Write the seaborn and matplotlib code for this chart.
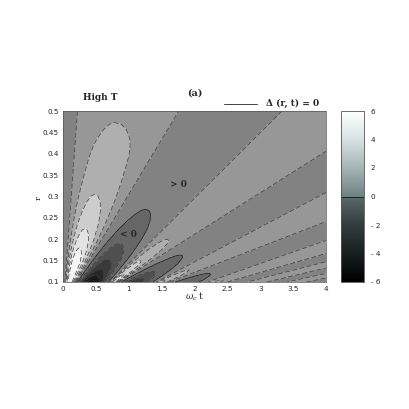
import matplotlib
matplotlib.use("Agg")
import matplotlib.pyplot as plt
import numpy as np
import seaborn as sns

# --------- Values --------- #
r_rows = [0.10, 0.11, 0.12, 0.135, 0.15, 0.165, 0.18, 0.20, 0.23, 0.25,
          0.27, 0.29, 0.31, 0.335, 0.36, 0.39, 0.42, 0.45, 0.473, 0.50]

# x where each level-1 ray sits at r = 0.1 and at r = 0.5
ray_bottom = [0.03, 0.20, 0.72, 0.85, 1.42, 1.62, 2.20, 2.50, 2.80, 3.10, 3.40, 3.70, 4.00]
ray_top = [0.22, 1.76, 3.33, 4.97, 6.35, 8.36, 9.60, 11.5, 12.9, 14.1, 15.4, 16.5, 17.6]

# value at the crest of each lobe between two rays, one per r row
crest_a = [5.8, 6.0, 6.0, 6.0, 5.8, 5.4, 5.0, 4.5, 3.9, 3.6, 3.35, 3.15, 2.95, 2.75, 2.6, 2.45, 2.3, 2.12, 2.0, 1.9]
crest_b = [-5.5, -4.5, -3.6, -2.7, -2.1, -1.6, -1.2, -0.8, -0.35, -0.15, 0.0, 0.1, 0.2, 0.28, 0.35, 0.4, 0.45, 0.5, 0.52, 0.55]
crest_c = [4.6, 4.3, 4.0, 3.5, 3.0, 2.6, 2.3, 2.0, 1.75, 1.63, 1.55, 1.5, 1.45, 1.42, 1.4, 1.37, 1.35, 1.33, 1.31, 1.3]
crest_d = [-2.8, -1.9, -1.2, -0.6, -0.2, 0.03, 0.2, 0.35, 0.45, 0.5, 0.55, 0.57, 0.6, 0.62, 0.65, 0.67, 0.7, 0.7, 0.7, 0.7]
crest_e = [3.2, 2.6, 2.2, 1.85, 1.6, 1.5, 1.45, 1.4, 1.35, 1.32, 1.3, 1.3, 1.3, 1.3, 1.3, 1.3, 1.3, 1.3, 1.3, 1.3]
crest_f = [-0.8, -0.3, 0.0, 0.25, 0.4, 0.5, 0.55, 0.6, 0.65, 0.68, 0.7, 0.7, 0.7, 0.7, 0.7, 0.7, 0.7, 0.7, 0.7, 0.7]
crest_g = [2.2, 1.8, 1.55, 1.4, 1.35, 1.3, 1.3, 1.3, 1.3, 1.3, 1.3, 1.3, 1.3, 1.3, 1.3, 1.3, 1.3, 1.3, 1.3, 1.3]
crest_h = [0.1, 0.35, 0.5, 0.6, 0.7, 0.7, 0.7, 0.7, 0.7, 0.7, 0.7, 0.7, 0.7, 0.7, 0.7, 0.7, 0.7, 0.7, 0.7, 0.7]
crest_i = [1.7, 1.45, 1.35, 1.3, 1.3, 1.3, 1.3, 1.3, 1.3, 1.3, 1.3, 1.3, 1.3, 1.3, 1.3, 1.3, 1.3, 1.3, 1.3, 1.3]
crest_j = [0.45, 0.6, 0.7, 0.7, 0.7, 0.7, 0.7, 0.7, 0.7, 0.7, 0.7, 0.7, 0.7, 0.7, 0.7, 0.7, 0.7, 0.7, 0.7, 0.7]
crest_k = [1.45, 1.35, 1.3, 1.3, 1.3, 1.3, 1.3, 1.3, 1.3, 1.3, 1.3, 1.3, 1.3, 1.3, 1.3, 1.3, 1.3, 1.3, 1.3, 1.3]
crest_l = [0.55, 0.65, 0.7, 0.7, 0.7, 0.7, 0.7, 0.7, 0.7, 0.7, 0.7, 0.7, 0.7, 0.7, 0.7, 0.7, 0.7, 0.7, 0.7, 0.7]
lobes = [crest_a, crest_b, crest_c, crest_d, crest_e, crest_f,
         crest_g, crest_h, crest_i, crest_j, crest_k, crest_l]
left_edge = 0.5
ray_level = 1.0

# profile across one lobe, crests lean to the left of the sector
lobe_pos = [0.0, 0.05, 0.1, 0.15, 0.2, 0.25, 0.3, 0.35, 0.4, 0.475, 0.55, 0.625, 0.7, 0.775, 0.85, 0.925]
lobe_shape = [0.0, 0.2, 0.38, 0.55, 0.71, 0.83, 0.92, 0.98, 1.0, 0.98, 0.92, 0.83, 0.71, 0.55, 0.38, 0.2]

levels = list(range(-6, 7))
band_colors = ["#0a0a0a", "#181818", "#282828", "#3a3a3a", "#4f4f4f", "#666666",
               "#828282", "#979797", "#afafaf", "#cdcdcd", "#e3e3e3", "#f5f5f5"]
x_ticks = [0, 0.5, 1, 1.5, 2, 2.5, 3, 3.5, 4]
x_tick_labels = ["0", "0.5", "1", "1.5", "2", "2.5", "3", "3.5", "4"]
y_ticks = [0.1, 0.15, 0.2, 0.25, 0.3, 0.35, 0.4, 0.45, 0.5]
y_tick_labels = ["0.1", "0.15", "0.2", "0.25", "0.3", "0.35", "0.4", "0.45", "0.5"]
bar_ticks = [-6, -4, -2, 0, 2, 4, 6]
bar_tick_labels = ["- 6", "- 4", "- 2", "0", "2", "4", "6"]
bar_colors = ["#000000", "#191e1e", "#323c3c", "#5a6969", "#6e8282", "#a5b4b4", "#d7e1e1", "#ffffff"]
bar_stops = [-6, -4, -2, -0.01, 0.01, 2, 4, 6]


# --------- Mesh following the rays --------- #
def build_field():
    r = np.array(r_rows)
    frac = (r - 0.1) / 0.4
    bottom = np.array(ray_bottom)
    top = np.array(ray_top)
    rays = [bottom[k] + (top[k] - bottom[k]) * frac for k in range(len(bottom))]

    x_cols = [np.zeros_like(r)]
    z_cols = [np.full_like(r, left_edge)]
    for k, crest in enumerate(lobes):
        crest = np.array(crest)
        for p, s in zip(lobe_pos, lobe_shape):
            x_cols.append(rays[k] + (rays[k + 1] - rays[k]) * p)
            z_cols.append(ray_level + (crest - ray_level) * s)
    x_cols.append(rays[-1])
    z_cols.append(np.full_like(r, ray_level))

    x_grid = np.array(x_cols).T
    z_grid = np.array(z_cols).T
    y_grid = np.tile(r[:, None], (1, x_grid.shape[1]))
    return x_grid, y_grid, z_grid


# --------- Plot --------- #
sns.set_style("white")
plt.rcParams["font.family"] = ["DejaVu Sans"]
plt.rcParams["mathtext.fontset"] = "dejavuserif"

stops = [(s + 6) / 12 for s in bar_stops]
cmap = matplotlib.colors.LinearSegmentedColormap.from_list("bar", list(zip(stops, bar_colors)))

fig = plt.figure(figsize=(4.09, 4.09), dpi=100)
ax = fig.add_axes([63 / 409, 1 - 282 / 409, 263 / 409, 171 / 409])
cax = fig.add_axes([341 / 409, 1 - 282 / 409, 23 / 409, 171 / 409])

x_grid, y_grid, z_grid = build_field()
ax.contourf(x_grid, y_grid, z_grid, levels=levels, colors=band_colors)
styles = ["solid" if v == 0 else (0, (7, 3.5)) for v in levels]
line_colors = ["#111111" if v == 0 else "#3a3a3a" for v in levels]
ax.contour(x_grid, y_grid, z_grid, levels=levels, colors=line_colors, linewidths=0.5, linestyles=styles)

ax.set_xlim(0, 4)
ax.set_ylim(0.1, 0.5)
ax.set_xticks(x_ticks, x_tick_labels)
ax.set_yticks(y_ticks, y_tick_labels)
ax.tick_params(labelsize=5.2, length=0, pad=3)
ax.set_xlabel(r"$\omega_c$ t", fontsize=6.5, family="DejaVu Serif", labelpad=-1)
ax.set_ylabel("r", fontsize=6, family="DejaVu Serif")
ax.yaxis.set_label_coords(-0.076, 0.49)
for s in ax.spines.values():
    s.set_linewidth(0.5)
    s.set_color("#555555")

ax.text(1.76, 0.329, "> 0", fontsize=6.5, family="DejaVu Serif", weight="bold", ha="center", va="center")
ax.text(1.0, 0.212, "< 0", fontsize=6.5, family="DejaVu Serif", weight="bold", ha="center", va="center")
fig.text(100 / 409, 1 - 98 / 409, "High T", fontsize=6.5, family="DejaVu Serif", weight="bold", ha="center", va="center")
fig.text(195 / 409, 1 - 93 / 409, "(a)", fontsize=7, family="DejaVu Serif", weight="bold", ha="center", va="center")
fig.text(293 / 409, 1 - 103 / 409, "Δ (r, t) = 0", fontsize=6.5, family="DejaVu Serif", weight="bold", ha="center", va="center")
fig.add_artist(plt.Line2D([224 / 409, 257 / 409], [1 - 104 / 409] * 2, color="#444444", linewidth=0.7))

mappable = plt.cm.ScalarMappable(norm=plt.Normalize(-6, 6), cmap=cmap)
bar = fig.colorbar(mappable, cax=cax, ticks=bar_ticks)
bar.set_ticklabels(bar_tick_labels)
bar.ax.tick_params(labelsize=5.2, length=1.5, width=0.4, direction="in", left=True, right=True, pad=5, color="#555555")
bar.outline.set_linewidth(0.6)
bar.outline.set_edgecolor("#555555")
bar.ax.axhline(0, color="#1a1a1a", linewidth=0.6)

fig.savefig("out.png", dpi=100)
